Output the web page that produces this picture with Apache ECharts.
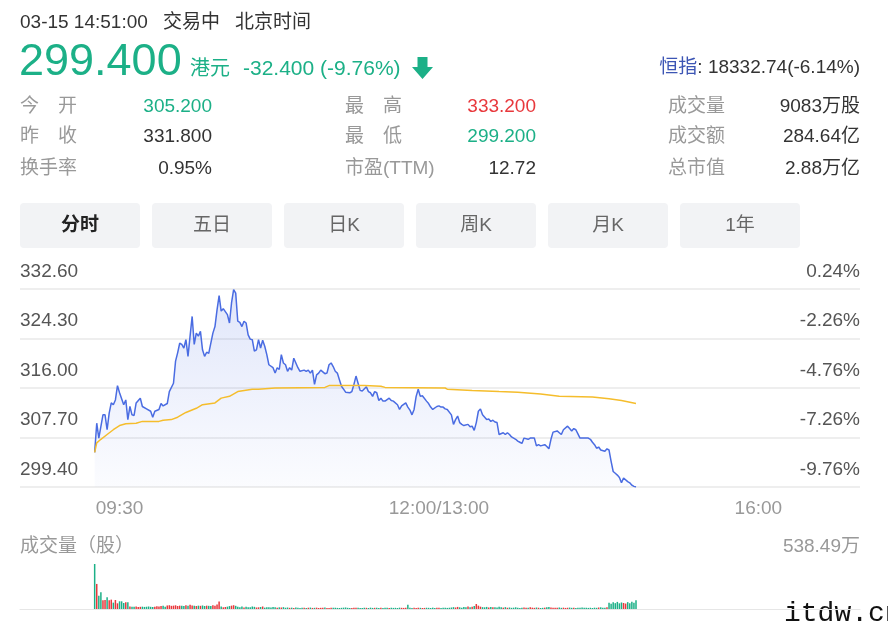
<!DOCTYPE html>
<html><head><meta charset="utf-8">
<script src="https://cdn.jsdelivr.net/npm/echarts@6/dist/echarts.min.js"></script>
<style>html,body{margin:0;padding:0;background:#fff}#c{width:888px;height:624px}</style>
</head><body><div id="c"></div>
<script>
// ---------- data ----------
const prevClose = 331.8;
// [trading minute since 09:30 (lunch removed), price]
const pricePoints = [[0,305.2],[1,310.1],[2,307.6],[4,311.5],[5,311.5],[6,309.0],[7,311.8],[8,313.5],[9,313.2],[10,314.0],[11,316.4],[12,315.2],[14,313.2],[15,314.0],[16,310.7],[17,312.9],[18,311.5],[19,311.4],[20,313.5],[22,314.3],[23,312.9],[25,312.5],[27,312.1],[28,311.1],[29,312.1],[31,312.4],[32,313.4],[33,313.0],[35,313.4],[36,315.4],[38,316.8],[39,320.5],[40,321.9],[41,323.5],[42,323.3],[43,322.7],[44,324.1],[45,321.3],[46,324.7],[47,328.0],[48,323.3],[49,325.2],[50,324.7],[51,325.5],[52,322.4],[53,321.3],[54,322.0],[55,321.8],[57,325.2],[58,326.3],[59,329.1],[60,331.5],[61,328.9],[62,329.3],[64,328.3],[65,326.9],[66,330.3],[67,332.5],[68,331.9],[69,327.2],[70,327.0],[71,326.3],[72,327.2],[73,326.9],[74,324.9],[75,324.2],[76,324.1],[77,322.2],[78,322.4],[79,324.1],[80,322.7],[81,324.0],[82,323.0],[83,321.6],[84,319.9],[86,319.4],[87,318.5],[88,319.4],[89,319.1],[90,321.6],[91,320.2],[92,319.9],[93,318.8],[94,319.4],[95,319.0],[96,321.0],[97,320.2],[98,319.4],[99,318.8],[101,319.0],[102,318.8],[103,319.0],[104,318.5],[105,319.0],[106,316.6],[107,318.2],[108,318.5],[109,319.0],[111,318.4],[112,318.5],[113,319.9],[114,320.2],[115,319.6],[116,318.8],[117,318.5],[118,317.4],[119,316.3],[120,315.8],[121,315.3],[123,315.2],[124,315.4],[125,316.6],[126,318.0],[127,316.8],[128,315.6],[129,315.5],[131,316.2],[132,315.4],[133,315.2],[134,314.6],[135,315.4],[136,315.2],[137,313.9],[138,314.3],[139,313.8],[140,313.8],[142,314.3],[143,313.9],[144,313.8],[146,313.2],[147,312.4],[148,313.0],[150,313.5],[151,312.8],[152,312.3],[153,311.5],[154,312.4],[155,314.6],[156,315.8],[157,314.6],[158,314.7],[160,313.8],[161,313.4],[162,312.8],[163,312.4],[165,312.9],[166,313.0],[167,312.8],[168,312.8],[169,312.5],[170,312.4],[172,311.5],[173,309.9],[174,310.7],[175,311.3],[176,310.2],[177,309.9],[178,309.7],[180,309.9],[181,309.5],[182,309.6],[183,308.9],[184,310.2],[185,312.1],[186,312.5],[187,311.5],[189,310.7],[190,310.8],[191,310.4],[192,310.6],[193,310.3],[194,310.2],[195,308.2],[197,308.5],[198,308.2],[199,308.5],[200,308.2],[201,307.8],[203,307.4],[204,307.1],[205,306.9],[206,306.7],[207,307.6],[209,307.4],[210,307.6],[211,307.6],[212,307.6],[213,306.3],[214,306.5],[215,306.3],[217,306.5],[218,306.2],[219,305.8],[220,307.4],[221,308.6],[223,308.8],[224,308.5],[225,308.2],[226,309.0],[228,309.6],[229,309.2],[230,308.8],[231,309.2],[232,309.0],[233,308.3],[234,307.6],[236,307.6],[238,307.6],[239,307.4],[240,306.9],[241,306.5],[242,305.9],[243,306.1],[244,305.6],[246,305.4],[247,305.8],[248,305.6],[249,303.7],[250,302.0],[251,301.7],[252,301.4],[253,301.0],[254,300.1],[255,300.9],[257,300.3],[258,300.1],[259,299.7],[260,299.5],[261,299.4]];
// [minute, average price]
const avgPoints = [[0,305.2],[1,306.8],[3,307.4],[6,308.2],[9,309.0],[12,309.7],[15,310.0],[20,310.1],[23,310.4],[31,310.4],[33,310.6],[37,310.7],[40,311.1],[44,311.9],[49,312.6],[52,313.2],[58,313.5],[61,314.3],[65,314.6],[69,315.4],[76,315.8],[79,315.8],[87,316.0],[111,316.1],[113,316.4],[130,316.4],[138,316.3],[140,316.1],[169,316.0],[170,315.8],[182,315.6],[195,315.4],[204,315.3],[215,315.0],[224,314.6],[240,314.5],[248,314.2],[254,313.9],[261,313.4]];
// volume per minute (万股)
const volumes = [538.49,300,160,200,104,108,140,104,112,76,108,68,92,92,72,80,80,
30,28,26,30,24,26,28,25,27,30,26,24,28,32,30,36,
40,26,42,45,38,40,44,36,40,38,35,45,40,50,42,38,36,40,38,42,36,40,38,36,44,40,55,90,
30,20,24,28,35,40,45,38,26,22,30,18,28,20,22,30,26,18,20,24,30,16,20,22,18,24,20,16,20,18,22,15,18,
14,16,12,18,15,13,16,14,12,15,17,13,14,16,12,14,15,18,13,12,14,16,15,13,12,14,16,18,14,12,13,15,14,16,12,13,15,14,12,16,13,14,15,12,14,13,16,14,12,15,13,14,12,16,14,13,15,
50,
14,12,15,13,16,14,12,13,15,14,12,16,13,14,15,12,14,16,13,15,18,
22,18,25,20,16,24,20,30,22,26,35,60,40,28,22,20,25,18,24,20,22,18,26,20,16,22,
15,18,14,16,20,14,12,16,18,15,14,20,16,14,18,15,12,14,16,22,24,18,16,14,15,18,14,16,13,15,17,14,16,12,15,14,18,16,14,13,15,12,16,14,18,20,16,15,22,
75,62,80,70,85,68,78,72,65,82,70,88,74,
105];
const yTicks = [299.40, 307.70, 316.00, 324.30, 332.60];
const timeLabels = ['09:30', '12:00/13:00', '16:00'];
const timeLabelAt = [12, 166, 320];
const headTime = ['03-15 14:51:00', '交易中', '北京时间'];
const lastPrice = '299.400', currency = '港元', change = '-32.400 (-9.76%)';
const hsiName = '恒指', hsiValue = ': 18332.74(-6.14%)';
const statCol1 = [['今　开','305.200'],['昨　收','331.800'],['换手率','0.95%']];
const statCol2 = [['最　高','333.200'],['最　低','299.200'],['市盈(TTM)','12.72']];
const statCol3 = [['成交量','9083万股'],['成交额','284.64亿'],['总市值','2.88万亿']];
const tabs = ['分时','五日','日K','周K','月K','1年'];

// ---------- styles ----------
const FF = "'Liberation Sans','Noto Sans CJK SC',sans-serif";
const GREEN = '#1cb087', RED = '#e8383c', DARK = '#333', GRAY = '#999';
const chart = echarts.init(document.getElementById('c'), null, {renderer: 'canvas'});

const g = [];
function txt(x, y, s, size, fill, align, weight, family) {
  g.push({type: 'text', x: x, y: y, silent: true,
    style: {text: s, fill: fill, align: align || 'left', verticalAlign: 'middle',
      font: (weight ? weight + ' ' : '') + size + 'px ' + (family || FF)}});
}
txt(20, 23, headTime[0], 19, DARK);
txt(163, 23, headTime[1], 19, DARK);
txt(235, 23, headTime[2], 19, DARK);
txt(19, 63, lastPrice, 45, GREEN);
txt(190, 69, currency, 20, GREEN);
txt(243, 69, change, 21, GREEN);
g.push({type: 'polygon', silent: true, shape: {points: [[417.5,57],[427.5,57],[427.5,67],[433,67],[422.5,79],[412,67],[417.5,67]]}, style: {fill: GREEN}});
g.push({type: 'text', x: 860, y: 68, silent: true,
  style: {text: '{a|' + hsiName + '}{b|' + hsiValue + '}', align: 'right', verticalAlign: 'middle',
    rich: {a: {fill: '#3c55b4', font: '19px ' + FF}, b: {fill: DARK, font: '19px ' + FF}}}});
const rowsY = [106.5, 137, 169];
const cols = [[statCol1, 20, 212], [statCol2, 345, 536], [statCol3, 668, 860]];
const valColors = [[GREEN, DARK, DARK], [RED, GREEN, DARK], [DARK, DARK, DARK]];
cols.forEach((c, ci) => c[0].forEach((r, ri) => {
  txt(c[1], rowsY[ri], r[0], 19, GRAY);
  txt(c[2], rowsY[ri], r[1], 19, valColors[ci][ri], 'right');
}));
tabs.forEach((t, i) => {
  g.push({type: 'rect', silent: true, shape: {x: 20 + i * 132, y: 203, width: 120, height: 45, r: 4}, style: {fill: '#f2f3f5'}});
  txt(80 + i * 132, 226, t, 19, i === 0 ? '#222' : '#666', 'center', i === 0 ? 'bold' : '');
});
txt(20, 547, '成交量（股）', 19, GRAY);
txt(860, 547, Math.max(...volumes).toFixed(2) + '万', 19, GRAY, 'right');
txt(784, 614, 'itdw.cn', 28, '#111', 'left', '', "'Liberation Mono','DejaVu Sans Mono',monospace");

// volume colours derived from price moves
const priceAt = {};
pricePoints.forEach(p => priceAt[p[0]] = p[1]);
let lastP = prevClose, lastC = GREEN;
const volData = volumes.map((v, i) => {
  let c = lastC;
  if (priceAt[i] !== undefined) {
    if (priceAt[i] > lastP) c = RED; else if (priceAt[i] < lastP) c = GREEN;
    lastP = priceAt[i];
  }
  lastC = c;
  return {value: [i, v], itemStyle: {color: c}};
});

const yMin = yTicks[0], yMax = yTicks[yTicks.length - 1];
const yStep = +(yTicks[1] - yTicks[0]).toFixed(2);
const axisLab = {fontFamily: FF, fontSize: 19};

chart.setOption({
  animation: false,
  backgroundColor: '#fff',
  graphic: g,
  grid: [
    {left: 20, right: 28, top: 289, height: 198, outerBoundsMode: 'none'},
    {left: 20, right: 28, top: 564, height: 45, outerBoundsMode: 'none'}
  ],
  xAxis: [
    {type: 'value', gridIndex: 0, min: -36, max: 369,
      axisLine: {show: false}, axisTick: {show: false}, splitLine: {show: false},
      axisLabel: Object.assign({color: GRAY, margin: 12, customValues: timeLabelAt,
        formatter: v => { const k = timeLabelAt.indexOf(v); return k >= 0 ? timeLabels[k] : ''; }}, axisLab)},
    {type: 'value', gridIndex: 1, min: -36, max: 369,
      axisLine: {show: true, lineStyle: {color: '#e6e6e6', width: 1}}, axisTick: {show: false},
      splitLine: {show: false}, axisLabel: {show: false}}
  ],
  yAxis: [
    {type: 'value', gridIndex: 0, min: yMin, max: yMax, interval: yStep, position: 'left',
      axisLine: {show: false}, axisTick: {show: false},
      splitLine: {show: true, lineStyle: {color: '#eeeeee', width: 2}},
      axisLabel: Object.assign({inside: true, color: '#555', align: 'left', verticalAlign: 'bottom',
        margin: 0, lineHeight: 19, padding: [0, 0, 8, 0], formatter: v => v.toFixed(2)}, axisLab)},
    {type: 'value', gridIndex: 0, min: yMin, max: yMax, interval: yStep, position: 'right',
      axisLine: {show: false}, axisTick: {show: false}, splitLine: {show: false},
      axisLabel: Object.assign({inside: true, color: '#555', align: 'right', verticalAlign: 'bottom',
        margin: 0, lineHeight: 19, padding: [0, 0, 8, 0],
        formatter: v => ((v / prevClose - 1) * 100).toFixed(2) + '%'}, axisLab)},
    {type: 'value', gridIndex: 1, min: 0, max: Math.max(...volumes), show: false}
  ],
  series: [
    {type: 'line', xAxisIndex: 0, yAxisIndex: 0, data: pricePoints, showSymbol: false, symbol: 'none',
      lineStyle: {color: '#4a6ce2', width: 1.5}, itemStyle: {color: '#4a6ce2'},
      areaStyle: {origin: 'start', color: new echarts.graphic.LinearGradient(0, 0, 0, 1, [
        {offset: 0, color: 'rgba(74,108,226,0.24)'}, {offset: 1, color: 'rgba(74,108,226,0.03)'}])}},
    {type: 'line', xAxisIndex: 0, yAxisIndex: 0, data: avgPoints, showSymbol: false, symbol: 'none',
      lineStyle: {color: '#f5bd2c', width: 1.5}, itemStyle: {color: '#f5bd2c'}},
    {type: 'bar', xAxisIndex: 1, yAxisIndex: 2, data: volData, barWidth: 1.5}
  ]
});
</script></body></html>
